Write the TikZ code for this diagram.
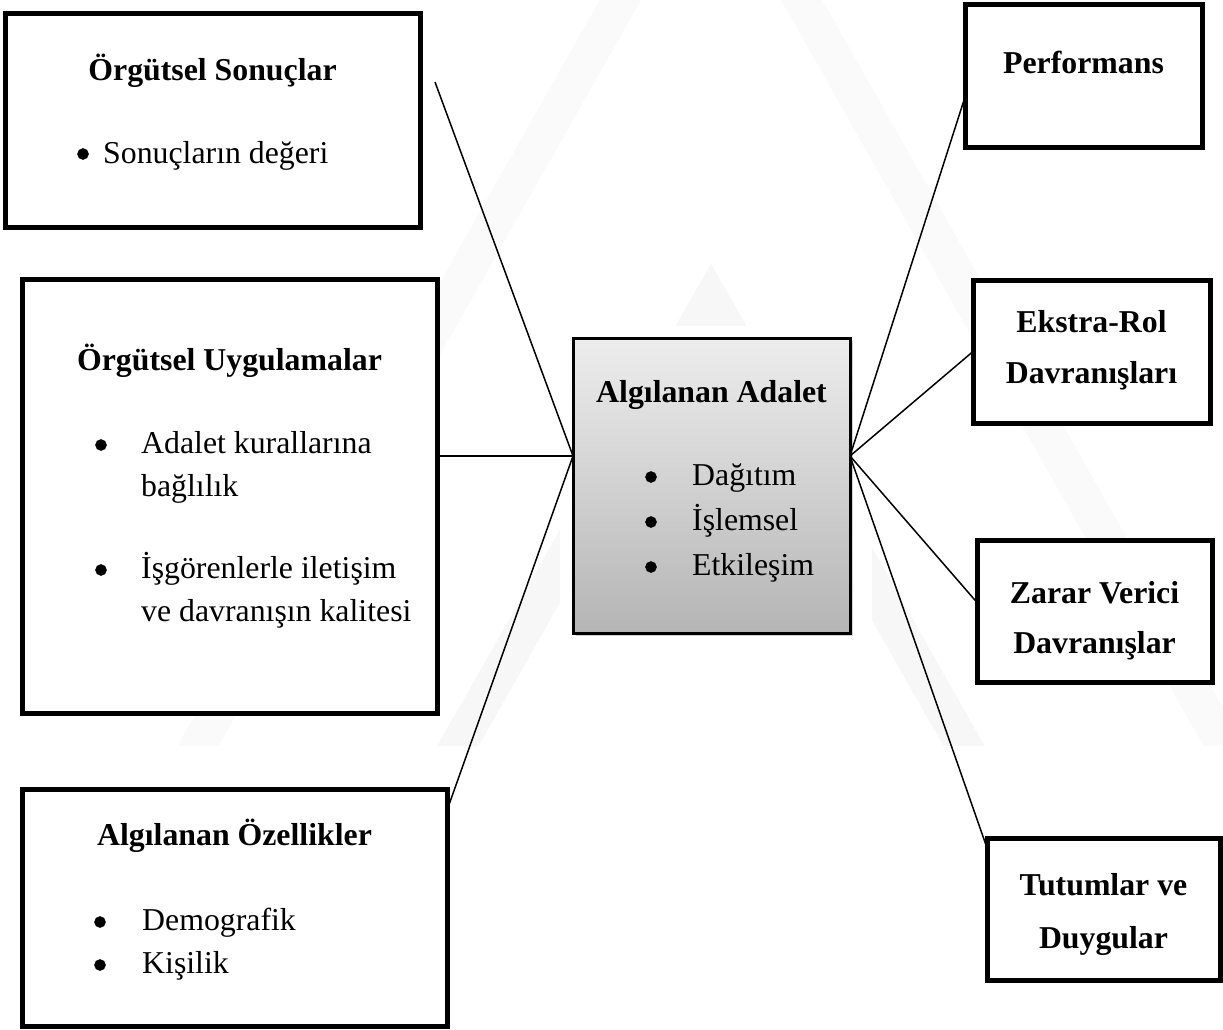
\documentclass[tikz,border=0pt]{standalone}
\usepackage{fontspec}
\setmainfont{Liberation Serif}
\usetikzlibrary{calc,shadows}
\begin{document}
\begin{tikzpicture}[x=1pt,y=-1pt,
  box/.style={draw=black,line width=5pt,fill=white,outer sep=0pt,inner sep=0pt},
  hub/.style={draw=black,line width=3pt,outer sep=0pt,inner sep=0pt,
    top color=black!7,bottom color=black!29,
    drop shadow={shadow xshift=2.5pt,shadow yshift=-2.5pt,opacity=0.35}},
  link/.style={draw=black,line width=1.5pt},
  wmark/.style={draw=black!3,line width=36pt,line cap=butt,line join=miter},
  txt/.style={inner sep=0pt,anchor=base,font=\fontsize{31.8}{38}\selectfont},
  ttl/.style={txt,font=\fontsize{31.8}{38}\selectfont\bfseries},
  itm/.style={txt,anchor=base west},
  dot/.style={circle,draw=black,fill=black,line width=0.5pt,inner sep=0pt,minimum size=11pt},
]
\useasboundingbox (0,0) rectangle (1223,1029);

% faint background chevrons
\begin{scope}
  \clip (0,0) rectangle (1223,745);
  \draw[wmark] (450,760) -- (711,300) -- (972,760);
  \draw[wmark,draw=black!2] (190,760) -- (711,-160) -- (1232,760);
\end{scope}
\fill[white] (560,326) rectangle (872,652);

% boxes
\node[box,minimum width=415pt,minimum height=214pt] (sonuc) at (212.5,120) {};
\node[box,minimum width=415pt,minimum height=434pt] (uyg) at (229.5,496) {};
\node[box,minimum width=425pt,minimum height=237pt] (ozel) at (234.5,907.5) {};
\node[hub,minimum width=277pt,minimum height=295pt] (adalet) at (711.5,485.5) {};
\node[box,minimum width=237pt,minimum height=143pt] (perf) at (1083.5,75.5) {};
\node[box,minimum width=237pt,minimum height=143pt] (ekstra) at (1091.5,351.5) {};
\node[box,minimum width=235pt,minimum height=142pt] (zarar) at (1094.5,611) {};
\node[box,minimum width=233pt,minimum height=142pt] (tutum) at (1103.5,909) {};

% connector end points
\coordinate (hubL) at ($(adalet.north west)!0.4!(adalet.south west)$);
\coordinate (hubR) at ($(adalet.north east)!0.4!(adalet.south east)$);
\coordinate (freeEnd) at (435,82);

\draw[link] (freeEnd) -- (hubL);
\draw[link] (uyg.east |- hubL) -- (hubL);
\draw[link] ($(ozel.north east)!0.09!(ozel.south east)$) -- (hubL);
\draw[link] (hubR) -- ($(perf.north west)!0.65!(perf.south west)$);
\draw[link] (hubR) -- ($(ekstra.north west)!0.5!(ekstra.south west)$);
\draw[link] (hubR) -- ($(zarar.north west)!0.44!(zarar.south west)$);
\draw[link] (hubR) -- ($(tutum.north west)!0.07!(tutum.south west)$);

% texts: Örgütsel Sonuçlar
\node[ttl] (t1) at (sonuc.center |- 0,80) {Örgütsel Sonuçlar};
\node[dot] (b1) at (83,154) {};
\node[itm] (i1) at (103,163) {Sonuçların değeri};

% Örgütsel Uygulamalar
\node[ttl] (t2) at (uyg.center |- 0,370) {Örgütsel Uygulamalar};
\node[dot] (b2a) at (101,445) {};
\node[itm] (i2a) at (141,453) {Adalet kurallarına};
\node[itm] (i2b) at (141,496) {bağlılık};
\node[dot] (b2b) at (101,570) {};
\node[itm] (i2c) at (141,578) {İşgörenlerle iletişim};
\node[itm] (i2d) at (141,621) {ve davranışın kalitesi};

% Algılanan Özellikler
\node[ttl] (t3) at (ozel.center |- 0,845) {Algılanan Özellikler};
\node[dot] (b3a) at (100,922) {};
\node[itm] (i3a) at (142,930) {Demografik};
\node[dot] (b3b) at (100,965) {};
\node[itm] (i3b) at (142,973) {Kişilik};

% Algılanan Adalet
\node[ttl] (t4) at (adalet.center |- 0,402) {Algılanan Adalet};
\node[dot] (b4a) at (651,477) {};
\node[itm] (i4a) at (692,485) {Dağıtım};
\node[dot] (b4b) at (651,522) {};
\node[itm] (i4b) at (692,530) {İşlemsel};
\node[dot] (b4c) at (651,567) {};
\node[itm] (i4c) at (692,575) {Etkileşim};

% right-hand outcomes
\node[ttl] (t5) at (perf.center |- 0,73) {Performans};
\node[ttl] (t6a) at (ekstra.center |- 0,332) {Ekstra-Rol};
\node[ttl] (t6b) at (ekstra.center |- 0,383) {Davranışları};
\node[ttl] (t7a) at (zarar.center |- 0,603) {Zarar Verici};
\node[ttl] (t7b) at (zarar.center |- 0,653) {Davranışlar};
\node[ttl] (t8a) at (tutum.center |- 0,895) {Tutumlar ve};
\node[ttl] (t8b) at (tutum.center |- 0,948) {Duygular};
\end{tikzpicture}
\end{document}
